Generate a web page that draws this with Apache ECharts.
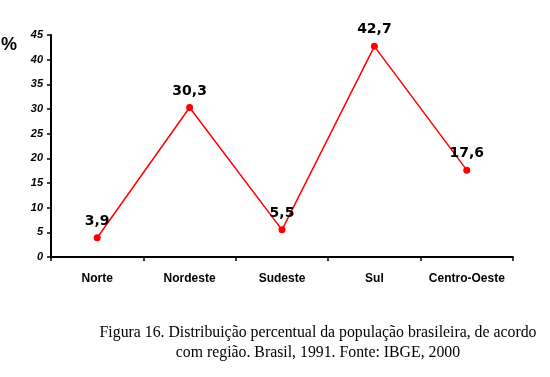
<!DOCTYPE html>
<html>
<head>
<meta charset="utf-8">
<script src="https://cdn.jsdelivr.net/npm/echarts@6/dist/echarts.min.js"></script>
<style>
  html, body { margin: 0; padding: 0; background: #fff; }
  #chart { width: 550px; height: 377px; }
</style>
</head>
<body>
<div id="chart"></div>
<script>
var regions = ['Norte', 'Nordeste', 'Sudeste', 'Sul', 'Centro-Oeste'];
var percent = [3.9, 30.3, 5.5, 42.7, 17.6];
var yTicks = { min: 0, max: 45, interval: 5 };
var caption = [
  'Figura 16. Distribuição percentual da população brasileira, de acordo',
  'com região. Brasil, 1991. Fonte: IBGE, 2000'
];

var chart = echarts.init(document.getElementById('chart'));

var option = {
  animation: false,
  grid: { left: 51, right: 37, top: 35, bottom: 120 },
  xAxis: {
    type: 'category',
    data: regions,
    boundaryGap: true,
    axisLine: { lineStyle: { color: '#000', width: 2 } },
    axisTick: { show: true, interval: 0, length: 4, lineStyle: { color: '#000', width: 1.5 } },
    axisLabel: {
      interval: 0,
      color: '#000', fontFamily: 'Liberation Sans', fontWeight: 'bold',
      fontSize: 12, margin: 16
    }
  },
  yAxis: {
    type: 'value',
    min: yTicks.min, max: yTicks.max, interval: yTicks.interval,
    splitLine: { show: false },
    axisLine: { show: true, lineStyle: { color: '#000', width: 2 } },
    axisTick: { show: true, length: 4, lineStyle: { color: '#000', width: 1.5 } },
    axisLabel: {
      color: '#000', fontFamily: 'Liberation Sans', fontWeight: 'bold',
      fontStyle: 'italic', fontSize: 11, margin: 8
    }
  },
  graphic: [
    {
      type: 'text',
      style: { x: 1, y: 36, text: '%', fill: '#000', font: 'bold 18px "Liberation Sans"' }
    },
    {
      type: 'text',
      style: {
        x: 318, y: 333, text: caption[0], fill: '#000', align: 'center', verticalAlign: 'middle',
        font: '15.8px "Liberation Serif"'
      }
    },
    {
      type: 'text',
      style: {
        x: 318, y: 353, text: caption[1], fill: '#000', align: 'center', verticalAlign: 'middle',
        font: '15.8px "Liberation Serif"'
      }
    }
  ],
  series: [{
    type: 'line',
    data: percent,
    symbol: 'circle',
    symbolSize: 7,
    lineStyle: { color: '#ff0000', width: 1.5 },
    itemStyle: { color: '#ff0000' },
    label: {
      show: true, position: 'top', distance: 6,
      color: '#000', fontFamily: 'DejaVu Sans', fontWeight: 'bold', fontSize: 14,
      formatter: function (p) { return String(p.value).replace('.', ','); }
    }
  }]
};

chart.setOption(option);
</script>
</body>
</html>
